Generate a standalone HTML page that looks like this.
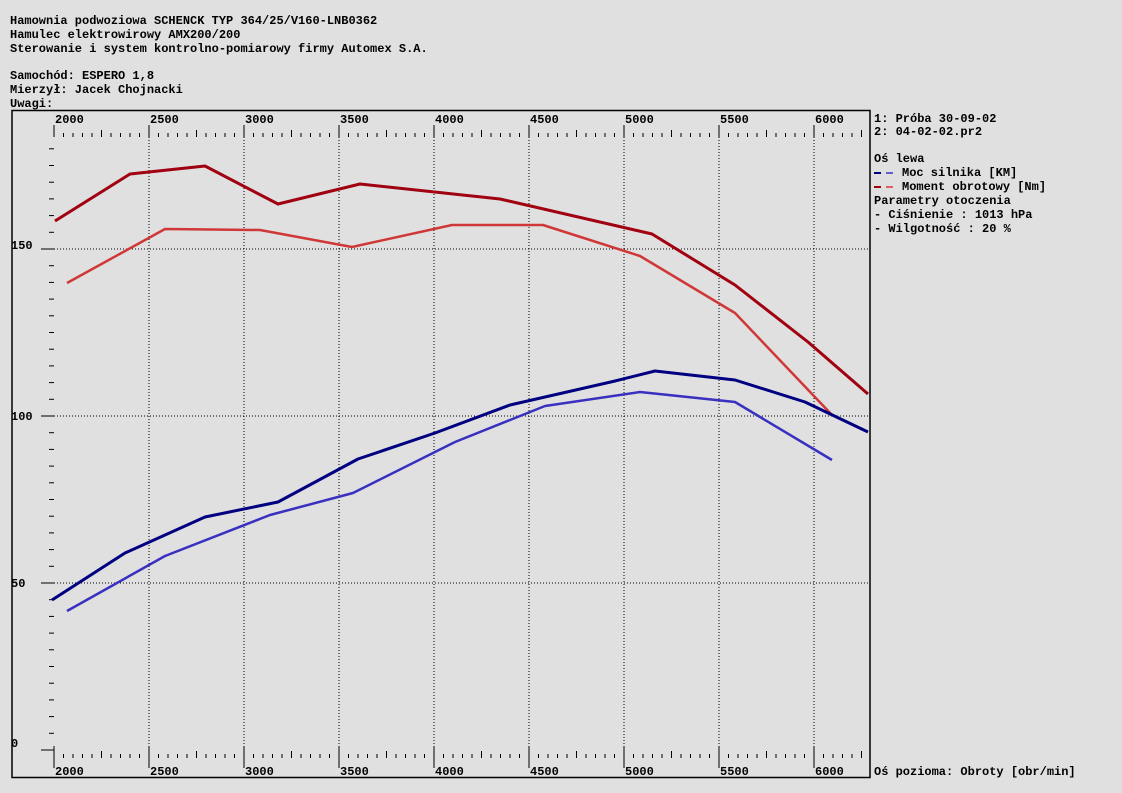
<!DOCTYPE html>
<html><head><meta charset="utf-8"><style>
html,body{margin:0;padding:0;background:#e0e0e0;}
body{width:1122px;height:793px;overflow:hidden;position:relative;}
svg{position:absolute;left:0;top:0;}
text{font-family:"Liberation Mono",monospace;font-weight:bold;font-size:12px;fill:#000;}
</style></head><body>
<svg width="1122" height="793" xmlns="http://www.w3.org/2000/svg">
<rect width="1122" height="793" fill="#e0e0e0"/>
<text x="10" y="24">Hamownia podwoziowa SCHENCK TYP 364/25/V160-LNB0362</text>
<text x="10" y="38">Hamulec elektrowirowy AMX200/200</text>
<text x="10" y="52">Sterowanie i system kontrolno-pomiarowy firmy Automex S.A.</text>
<text x="10" y="79">Samochód: ESPERO 1,8</text>
<text x="10" y="93">Mierzył: Jacek Chojnacki</text>
<text x="10" y="107">Uwagi:</text>
<rect x="12" y="110.5" width="858" height="667" fill="none" stroke="#000" stroke-width="1.5"/>
<g stroke="#000" stroke-width="1" stroke-dasharray="1,2">
<line x1="149" y1="137" x2="149" y2="750"/><line x1="244" y1="137" x2="244" y2="750"/>
<line x1="339" y1="137" x2="339" y2="750"/><line x1="434" y1="137" x2="434" y2="750"/>
<line x1="529" y1="137" x2="529" y2="750"/><line x1="624" y1="137" x2="624" y2="750"/>
<line x1="719" y1="137" x2="719" y2="750"/><line x1="814" y1="137" x2="814" y2="750"/>
<line x1="54" y1="583" x2="870" y2="583"/><line x1="54" y1="416" x2="870" y2="416"/>
<line x1="54" y1="249" x2="870" y2="249"/>
</g>
<g id="tk" stroke="#000" stroke-width="1"></g>
<g>
<text x="55" y="123">2000</text><text x="150" y="123">2500</text><text x="245" y="123">3000</text>
<text x="340" y="123">3500</text><text x="435" y="123">4000</text><text x="530" y="123">4500</text>
<text x="625" y="123">5000</text><text x="720" y="123">5500</text><text x="815" y="123">6000</text>
<text x="55" y="775">2000</text><text x="150" y="775">2500</text><text x="245" y="775">3000</text>
<text x="340" y="775">3500</text><text x="435" y="775">4000</text><text x="530" y="775">4500</text>
<text x="625" y="775">5000</text><text x="720" y="775">5500</text><text x="815" y="775">6000</text>
<text x="11" y="249">150</text><text x="11" y="420">100</text><text x="11" y="587">50</text><text x="11" y="747">0</text>
</g>
<g fill="none" stroke-width="3" stroke-linejoin="round">
<polyline stroke="#a00010" points="55,221 130,174 205,166 278,204 360,184 500,199 652,234 735,285 808,342 868,394"/>
<polyline stroke="#d03838" stroke-width="2.5" points="67,283 165,229 260,230 352,247 452,225 543,225 640,256 735,313 832,415"/>
<polyline stroke="#000080" points="52,600 125,553 205,517 278,502 358,459 435,433 510,405 615,381 655,371 735,380 805,402 868,432"/>
<polyline stroke="#3a30c0" stroke-width="2.5" points="67,611 165,556 270,515 353,493 455,442 545,406 640,392 735,402 832,460"/>
</g>
<text x="874" y="122">1: Próba 30-09-02</text>
<text x="874" y="135">2: 04-02-02.pr2</text>
<text x="874" y="162">Oś lewa</text>
<line x1="874" y1="173" x2="881" y2="173" stroke="#000080" stroke-width="2"/>
<line x1="886" y1="173" x2="893" y2="173" stroke="#6060d0" stroke-width="2"/>
<text x="902" y="176">Moc silnika [KM]</text>
<line x1="874" y1="187" x2="881" y2="187" stroke="#a00010" stroke-width="2"/>
<line x1="886" y1="187" x2="893" y2="187" stroke="#e06060" stroke-width="2"/>
<text x="902" y="190">Moment obrotowy [Nm]</text>
<text x="874" y="204">Parametry otoczenia</text>
<text x="874" y="218">- Ciśnienie   : 1013 hPa</text>
<text x="874" y="232">- Wilgotność  : 20 %</text>
<text x="874" y="775">Oś pozioma: Obroty [obr/min]</text>
</svg>
<script>
var g=document.getElementById('tk'),s='';
for(var i=0;i<=86;i++){var x=54+i*9.5;if(x>866)break;
 var len=(i%10==0)?12:((i%5==0)?7:4);
 s+='<line x1="'+x+'" y1="'+(137-len)+'" x2="'+x+'" y2="137"/>';
 s+='<line x1="'+x+'" y1="'+(758-len+ (i%10==0?0:0))+'" x2="'+x+'" y2="'+(i%10==0?768:758)+'"/>';}
for(var j=0;j<=37;j++){var y=750-j*16.7;if(y<140)break;var big=j%10==0;
 s+='<line x1="'+(big?41:49)+'" y1="'+y.toFixed(1)+'" x2="54" y2="'+y.toFixed(1)+'"/>';}
s+='<line x1="54" y1="750" x2="54" y2="762"/>';
g.innerHTML=s;
</script>
</body></html>
